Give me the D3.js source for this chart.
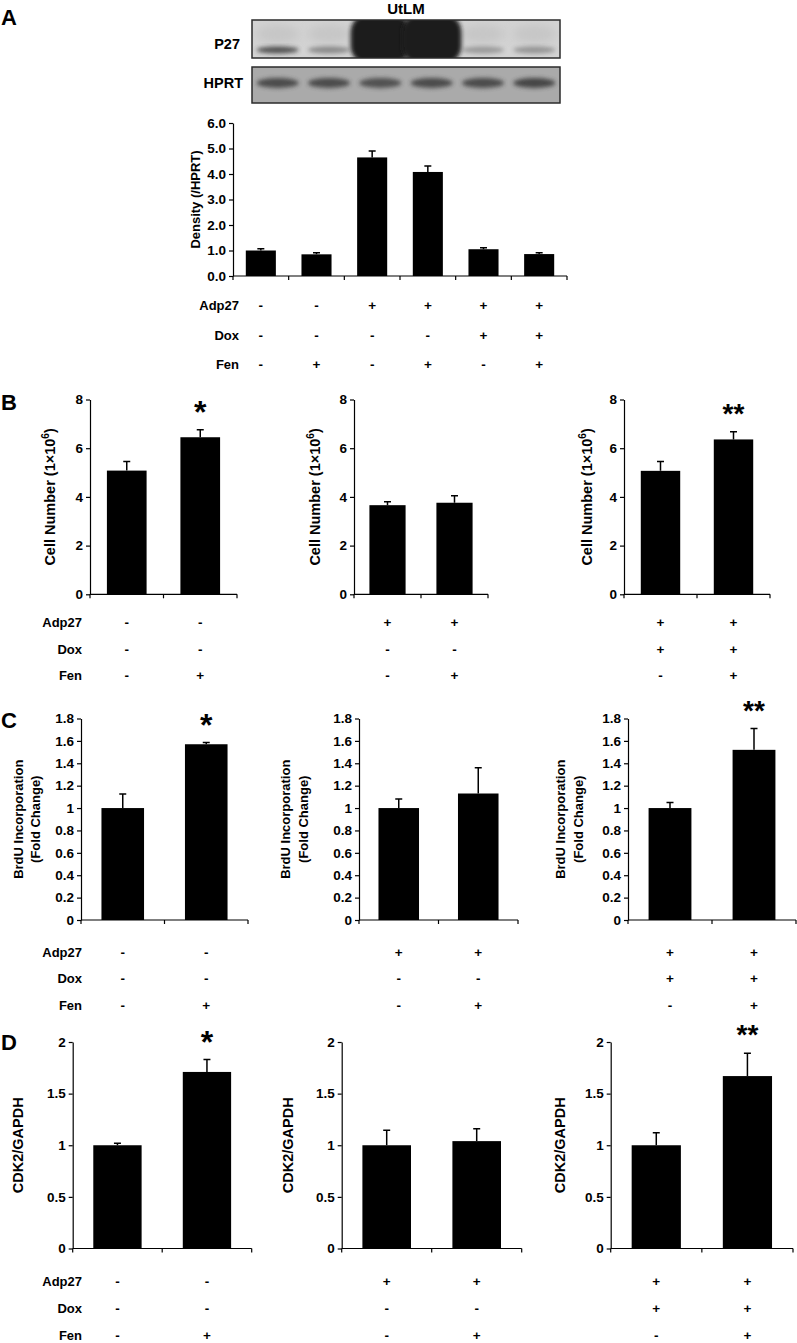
<!DOCTYPE html>
<html>
<head>
<meta charset="utf-8">
<script src="https://cdn.jsdelivr.net/npm/d3@7"></script>
<style>
body { margin: 0; background: #fff; }
text { font-family: "Liberation Sans", Arial, sans-serif; font-weight: bold; fill: #000; }
</style>
</head>
<body>
<svg id="fig" width="797" height="1343"></svg>
<script>
// values
var laneNames = ["1", "2", "3", "4", "5", "6"];
var p27Signal = [0.8, 0.45, 1, 1, 0.35, 0.38];   // 1 = saturated band
var hprtSignal = [0.85, 0.85, 0.8, 0.85, 0.85, 0.9];

var densityValues = [1.00, 0.85, 4.65, 4.08, 1.05, 0.86];
var densityErrors = [0.07, 0.06, 0.25, 0.23, 0.06, 0.05];
var densityTicks = [0, 1, 2, 3, 4, 5, 6];

var rowLabels = ["Adp27", "Dox", "Fen"];
var signsA = [
  ["-", "-", "+", "+", "+", "+"],
  ["-", "-", "-", "-", "+", "+"],
  ["-", "+", "-", "+", "-", "+"]
];

// three groups (left, middle, right) x two bars each
var groupSigns = [
  [["-", "-"], ["-", "-"], ["-", "+"]],
  [["+", "+"], ["-", "-"], ["-", "+"]],
  [["+", "+"], ["+", "+"], ["-", "+"]]
];
var starLabels = [["", "*"], ["", ""], ["", "**"]];

var cellValues = [[5.08, 6.45], [3.66, 3.76], [5.07, 6.36]];
var cellErrors = [[0.37, 0.31], [0.14, 0.29], [0.38, 0.32]];
var cellTicks = [0, 2, 4, 6, 8];

var brduValues = [[1.00, 1.57], [1.00, 1.13], [1.00, 1.52]];
var brduErrors = [[0.125, 0.015], [0.08, 0.23], [0.05, 0.19]];
var brduTicks = [0, 0.2, 0.4, 0.6, 0.8, 1, 1.2, 1.4, 1.6, 1.8];

var cdkValues = [[1.00, 1.71], [1.00, 1.04], [1.00, 1.67]];
var cdkErrors = [[0.02, 0.12], [0.145, 0.12], [0.12, 0.22]];
var cdkTicks = [0, 0.5, 1, 1.5, 2];

var svg = d3.select("#fig");
var defs = svg.append("defs");
defs.append("filter").attr("id", "blur")
    .attr("x", "-50%").attr("y", "-50%").attr("width", "200%").attr("height", "200%")
  .append("feGaussianBlur").attr("stdDeviation", 2.2);
defs.append("filter").attr("id", "blurSoft")
    .attr("x", "-50%").attr("y", "-50%").attr("width", "200%").attr("height", "200%")
  .append("feGaussianBlur").attr("stdDeviation", 5);

// panel letters
[["A", 25], ["B", 410], ["C", 728], ["D", 1050]].forEach(function(p) {
  svg.append("text").attr("x", 1).attr("y", p[1]).attr("font-size", 22).text(p[0]);
});

// ---- western blot strips ----
var lane = d3.scaleBand().domain(laneNames).range([252, 560]);

function blotBox(id, y0, h, bg) {
  defs.append("clipPath").attr("id", id)
    .append("rect").attr("x", 252).attr("y", y0).attr("width", 308).attr("height", h);
  var g = svg.append("g").attr("clip-path", "url(#" + id + ")");
  g.append("rect").attr("x", 252).attr("y", y0).attr("width", 308).attr("height", h).attr("fill", bg);
  return g;
}

var p27 = blotBox("clipP27", 20, 38, "#d3d3d3");
p27.selectAll("ellipse.smear").data(laneNames.filter(function(d, i) { return p27Signal[i] < 1; }))
  .join("ellipse")
    .attr("cx", function(d) { return lane(d) + lane.bandwidth() / 2; })
    .attr("cy", 34).attr("rx", 22).attr("ry", 9)
    .attr("fill", "#b9b9b9").attr("opacity", 0.5)
    .attr("filter", "url(#blurSoft)");
p27.selectAll("ellipse.band").data(laneNames)
  .join("ellipse")
    .attr("cx", function(d) { return lane(d) + lane.bandwidth() / 2; })
    .attr("cy", 50).attr("rx", 21).attr("ry", 3.4)
    .attr("fill", "#333")
    .attr("opacity", function(d, i) { return p27Signal[i] < 1 ? p27Signal[i] : 0; })
    .attr("filter", "url(#blur)");
p27.selectAll("rect.sat").data(laneNames.filter(function(d, i) { return p27Signal[i] >= 1; }))
  .join("rect")
    .attr("x", function(d) { return lane(d) - 4; })
    .attr("width", lane.bandwidth() + 8)
    .attr("y", 14).attr("height", 50).attr("rx", 18)
    .attr("fill", "#1b1b1b")
    .attr("filter", "url(#blur)");
svg.append("rect").attr("x", 252).attr("y", 20).attr("width", 308).attr("height", 38)
  .attr("fill", "none").attr("stroke", "#2b2b2b").attr("stroke-width", 1.5);

var hprt = blotBox("clipHPRT", 67, 36, "#aaaaaa");
hprt.selectAll("ellipse.band").data(laneNames)
  .join("ellipse")
    .attr("cx", function(d) { return lane(d) + lane.bandwidth() / 2; })
    .attr("cy", 83).attr("rx", 21).attr("ry", 5)
    .attr("fill", "#3a3a3a")
    .attr("opacity", function(d, i) { return hprtSignal[i]; })
    .attr("filter", "url(#blur)");
svg.append("rect").attr("x", 252).attr("y", 67).attr("width", 308).attr("height", 36)
  .attr("fill", "none").attr("stroke", "#2b2b2b").attr("stroke-width", 1.5);

svg.append("text").attr("x", 406).attr("y", 14).attr("text-anchor", "middle").attr("font-size", 15).text("UtLM");
svg.append("text").attr("x", 240).attr("y", 49).attr("text-anchor", "end").attr("font-size", 14.5).text("P27");
svg.append("text").attr("x", 243).attr("y", 88).attr("text-anchor", "end").attr("font-size", 14.5).text("HPRT");

// ---- bar chart helper ----
function addLabel(lines, xs, yc, size) {
  lines.forEach(function(line, k) {
    var t = svg.append("text")
      .attr("transform", "translate(" + (xs[k] + size * 0.36) + "," + yc + ") rotate(-90)")
      .attr("text-anchor", "middle").attr("font-size", size);
    var parts = line.split("^");
    t.append("tspan").text(parts[0]);
    if (parts.length > 1) {
      t.append("tspan").attr("dy", -size * 0.4).attr("font-size", size * 0.7).text(parts[1].charAt(0));
      t.append("tspan").attr("dy", size * 0.4).text(parts[1].slice(1));
    }
  });
}

function drawBars(o) {
  var n = o.values.length;
  var x = d3.scaleBand().domain(d3.range(n)).range([o.x0, o.x1])
    .paddingInner(o.pad).paddingOuter(o.pad / 2);
  var y = d3.scaleLinear().domain([0, o.max]).range([o.yBot, o.yTop]);
  var g = svg.append("g");

  var ax = g.append("g").attr("transform", "translate(" + o.x0 + ",0)")
    .call(d3.axisLeft(y).tickValues(o.ticks).tickFormat(o.fmt)
      .tickSize(4).tickSizeOuter(0).tickPadding(3));
  ax.attr("font-size", 13.5).attr("font-family", null);
  ax.select(".domain").attr("stroke", "#000").attr("stroke-width", 1.2);
  ax.selectAll(".tick line").attr("stroke", "#000").attr("stroke-width", 1.2);

  g.append("line").attr("x1", o.x0).attr("x2", o.x1).attr("y1", o.yBot).attr("y2", o.yBot)
    .attr("stroke", "#000").attr("stroke-width", 1.2);
  g.selectAll("line.xt").data(d3.range(n + 1)).join("line")
    .attr("x1", function(i) { return o.x0 + i * x.step(); })
    .attr("x2", function(i) { return o.x0 + i * x.step(); })
    .attr("y1", o.yBot).attr("y2", o.yBot + 4)
    .attr("stroke", "#000").attr("stroke-width", 1.2);

  g.selectAll("rect.bar").data(o.values).join("rect")
    .attr("x", function(d, i) { return x(i); })
    .attr("y", function(d) { return y(d); })
    .attr("width", x.bandwidth())
    .attr("height", function(d) { return o.yBot - y(d); })
    .attr("fill", "#000");

  g.selectAll("path.err").data(o.values).join("path")
    .attr("d", function(d, i) {
      var cx = x(i) + x.bandwidth() / 2, top = y(d + o.errors[i]);
      return "M" + cx + "," + y(d) + "V" + top + "M" + (cx - 3.5) + "," + top + "H" + (cx + 3.5);
    })
    .attr("fill", "none").attr("stroke", "#000").attr("stroke-width", 1.5);

  if (o.stars) {
    o.stars.forEach(function(s, i) {
      if (!s) return;
      var size = s.length > 1 ? 28 : 32;
      var cy = y(o.values[i] + o.errors[i]) - 25;
      g.append("text").attr("x", x(i) + x.bandwidth() / 2).attr("y", cy + size * 0.57)
        .attr("text-anchor", "middle").attr("font-size", size).text(s);
    });
  }

  o.signs.forEach(function(row, r) {
    g.selectAll(null).data(row).join("text")
      .attr("x", function(d, i) { return x(i) + x.bandwidth() / 2; })
      .attr("y", o.rows[r])
      .attr("text-anchor", "middle").attr("font-size", 13.5)
      .text(function(d) { return d; });
  });
  if (o.rowLabelX) {
    rowLabels.forEach(function(l, r) {
      g.append("text").attr("x", o.rowLabelX).attr("y", o.rows[r])
        .attr("text-anchor", "end").attr("font-size", 13).text(l);
    });
  }
  addLabel(o.label, o.labelX, (o.yTop + o.yBot) / 2, o.labelSize);
}

// panel A chart
drawBars({
  x0: 233, x1: 567, yTop: 123, yBot: 276, pad: 0.46,
  values: densityValues, errors: densityErrors, max: 6,
  ticks: densityTicks, fmt: d3.format(".1f"),
  signs: signsA, rows: [310, 339.5, 369], rowLabelX: 239,
  label: ["Density (/HPRT)"], labelX: [195], labelSize: 13
});

// panels B, C, D
var panels = [
  { values: cellValues, errors: cellErrors, max: 8, ticks: cellTicks, fmt: d3.format("d"),
    label: ["Cell Number (1×10^6)"], labelSize: 14.5,
    yTop: 399.5, yBot: 594.3, pad: 0.46, rows: [627, 653.5, 680],
    axes: [[90, 237], [354, 488], [624, 770]], labelX: [[50], [315], [587]] },
  { values: brduValues, errors: brduErrors, max: 1.8, ticks: brduTicks, fmt: function(d) { return String(d); },
    label: ["BrdU Incorporation", "(Fold Change)"], labelSize: 13,
    yTop: 718.5, yBot: 920, pad: 0.49, rows: [956.5, 983, 1010],
    axes: [[81, 248], [359, 518], [628, 796]], labelX: [[18, 35], [285, 303], [560, 578]] },
  { values: cdkValues, errors: cdkErrors, max: 2, ticks: cdkTicks, fmt: function(d) { return String(d); },
    label: ["CDK2/GAPDH"], labelSize: 14.5,
    yTop: 1042, yBot: 1248.5, pad: 0.46, rows: [1286, 1313, 1340],
    axes: [[72.7, 251.7], [341.7, 521.7], [610.7, 793]], labelX: [[18], [288], [560]] }
];

panels.forEach(function(p) {
  p.axes.forEach(function(a, gi) {
    drawBars({
      x0: a[0], x1: a[1], yTop: p.yTop, yBot: p.yBot, pad: p.pad,
      values: p.values[gi], errors: p.errors[gi], max: p.max,
      ticks: p.ticks, fmt: p.fmt, stars: starLabels[gi],
      signs: groupSigns[gi], rows: p.rows, rowLabelX: gi === 0 ? 82 : null,
      label: p.label, labelX: p.labelX[gi], labelSize: p.labelSize
    });
  });
});
</script>
</body>
</html>
